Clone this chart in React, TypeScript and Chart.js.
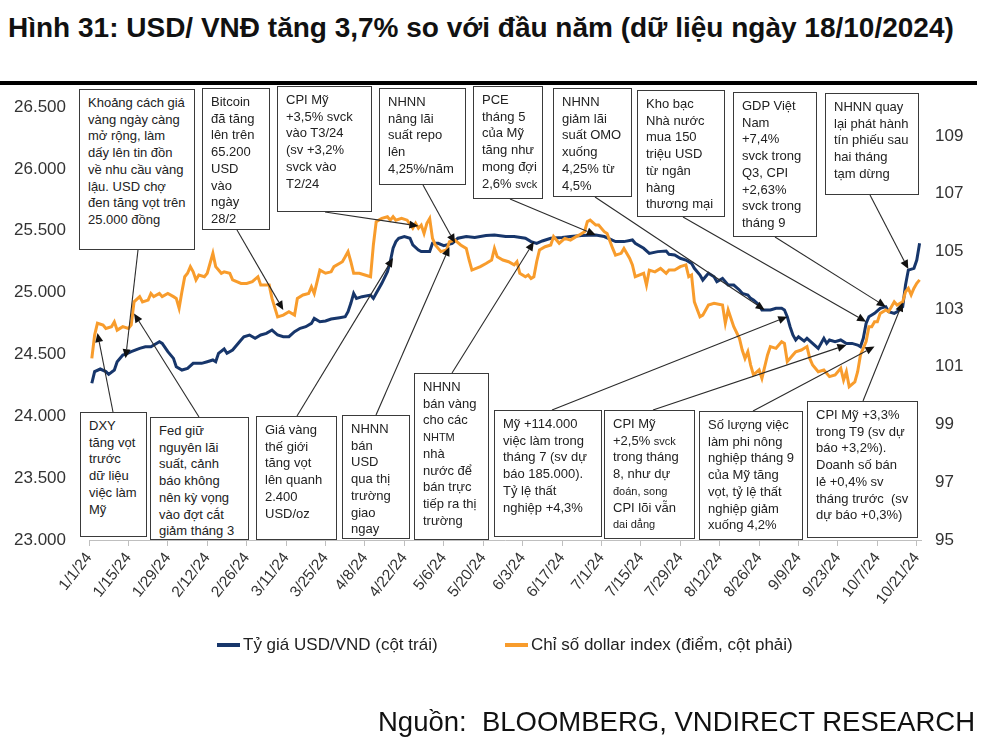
import React, { useEffect, useRef } from "react";
import { Chart, registerables } from "chart.js";
Chart.register(...registerables);

// ---- DATA ----
// x = days since 1/1/24
const vndDays = [1,2,4,6,7,9,10,12,13,15,18,20,22,25,26,28,30,31,33,35,37,40,42,44,45,46,48,49,51,54,55,57,59,61,63,65,67,69,71,73,75,77,79,80,82,84,86,89,91,92,93,94,95,97,100,101,102,104,106,107,108,109,110,112,114,115,117,118,121,122,124,126,129,131,134,137,141,144,148,151,155,157,159,161,164,168,171,175,180,183,187,190,193,194,197,199,202,205,206,208,210,212,214,215,217,218,220,222,223,225,227,229,231,232,234,235,236,238,239,242,244,246,247,248,249,250,251,252,254,255,257,259,261,262,263,265,267,269,271,273,274,275,276,277,279,281,283,284,286,287,289,290,291,293,294,295];
const vndValues = [24267,24361,24382,24361,24339,24374,24441,24495,24501,24522,24549,24562,24562,24603,24589,24522,24468,24401,24374,24387,24428,24428,24441,24455,24441,24509,24544,24509,24536,24617,24643,24657,24630,24657,24670,24697,24657,24643,24643,24684,24711,24724,24751,24791,24764,24770,24786,24797,24805,24845,24913,24994,24953,24967,24980,24953,24994,25075,25169,25250,25358,25412,25439,25453,25439,25385,25344,25331,25331,25398,25398,25379,25398,25439,25453,25445,25461,25466,25453,25453,25439,25412,25398,25417,25439,25445,25453,25461,25466,25453,25412,25412,25425,25398,25358,25317,25331,25336,25309,25304,25277,25263,25236,25196,25142,25101,25156,25128,25088,25115,25061,25061,25021,24994,24980,24953,24940,24900,24859,24859,24873,24873,24859,24805,24724,24657,24617,24643,24608,24630,24589,24549,24630,24589,24617,24603,24617,24589,24589,24576,24562,24630,24751,24805,24832,24873,24886,24845,24832,24845,24886,25061,25182,25196,25263,25398];

const dxyDays = [1,2,3,5,6,8,9,10,12,14,15,16,18,19,21,22,23,25,26,28,30,31,32,33,34,35,36,37,38,39,41,42,44,45,47,48,50,51,54,56,58,60,61,64,65,67,69,71,73,74,76,78,79,80,82,84,86,87,90,91,92,93,94,96,98,100,101,102,104,106,107,108,109,111,113,115,116,117,118,119,120,121,122,123,125,127,128,130,132,134,135,136,139,141,143,144,145,147,149,151,152,153,155,156,157,158,159,160,162,164,165,167,169,171,173,174,176,177,178,180,181,183,184,186,187,189,190,192,193,194,197,198,199,201,203,205,206,208,210,212,213,214,215,217,218,220,222,225,226,227,229,231,232,233,234,235,236,238,239,241,242,244,246,247,248,250,251,253,255,256,257,259,261,263,265,267,268,269,270,272,273,274,276,277,278,279,280,281,283,284,285,286,287,289,290,291,292,293,294,295];
const dxyValues = [101.29,102.1,102.51,102.45,102.33,102.39,102.56,102.27,102.39,102.33,102.45,103.25,103.43,103.25,103.31,103.54,103.43,103.54,103.43,103.54,103.43,103.37,103.03,103.6,104.12,104.24,104.47,104.29,104.01,104.18,104.12,104.24,104.93,104.47,104.24,104.29,104.24,104.01,103.89,103.89,103.95,104.12,103.83,103.83,103.37,102.73,102.79,102.91,102.79,103.37,103.49,103.54,103.77,103.54,104.35,104.24,104.29,104.47,104.64,104.81,104.99,104.64,104.24,104.24,104.18,104.12,105.22,106.03,106.14,106.2,106.08,106.2,106.08,106.14,106.08,105.8,105.97,105.8,105.91,105.62,105.97,106.14,105.45,105.22,104.99,105.05,105.33,105.39,105.22,105.1,104.7,104.35,104.47,104.58,104.7,105.1,104.81,104.7,104.64,104.53,104.64,104.24,104.12,104.18,104.06,104.12,104.64,105.05,105.16,105.22,105.51,105.28,105.45,105.39,105.51,105.56,105.68,106.03,106.08,105.91,105.91,105.68,105.62,105.1,104.87,104.93,105.1,104.76,104.53,104.12,104.24,103.83,104.35,104.29,104.41,104.24,104.35,104.35,104.47,104.53,104.12,104.18,103.25,102.73,102.79,103.14,103.2,103.14,102.51,102.97,102.39,101.99,101.58,101.29,101.52,101.06,100.72,100.89,100.6,101.41,101.7,101.64,101.87,101.81,101.18,101.41,101.52,101.58,101.7,101.29,101.06,100.83,100.89,100.66,100.72,100.95,100.54,100.83,100.31,100.48,100.83,101.41,101.87,102.39,102.39,102.56,102.56,102.85,102.97,102.91,103.08,103.25,103.14,103.25,103.6,103.72,103.49,103.72,103.89,104.01];

const leftTicks = [23000,23500,24000,24500,25000,25500,26000,26500];
const rightTicks = [95,97,99,101,103,105,107,109];
const xTickDays = [0,14,28,42,56,70,84,98,112,126,140,154,168,182,196,210,224,238,252,266,280,294];

const seriesNames = ["Tỷ giá USD/VND (cột trái)", "Chỉ số dollar index (điểm, cột phải)"];
const titleText = "Hình 31: USD/ VNĐ tăng 3,7% so với đầu năm (dữ liệu ngày 18/10/2024)";
const sourceText = "Nguồn:  BLOOMBERG, VNDIRECT RESEARCH";

// annotations: text in {} is drawn smaller
const noteTexts = [
  ["Khoảng cách giá","vàng ngày càng","mở rộng, làm","dấy lên tin đồn","về nhu cầu vàng","lậu. USD chợ","đen tăng vọt trên","25.000 đồng"],
  ["Bitcoin","đã tăng","lên trên","65.200","USD","vào","ngày","28/2"],
  ["CPI Mỹ","+3,5% svck","vào T3/24","(sv +3,2%","svck vào","T2/24"],
  ["NHNN","nâng lãi","suất repo","lên","4,25%/năm"],
  ["PCE","tháng 5","của Mỹ","tăng như","mong đợi","2,6% {svck}"],
  ["NHNN","giảm lãi","suất OMO","xuống","4,25% từ","4,5%"],
  ["Kho bạc","Nhà nước","mua 150","triệu USD","từ ngân","hàng","thương mại"],
  ["GDP Việt","Nam","+7,4%","svck trong","Q3, CPI","+2,63%","svck trong","tháng 9"],
  ["NHNN quay","lại phát hành","tín phiếu sau","hai tháng","tạm dừng"],
  ["DXY","tăng vọt","trước","dữ liệu","việc làm","Mỹ"],
  ["Fed giữ","nguyên lãi","suất, cảnh","báo không","nên kỳ vọng","vào đợt cắt","giảm tháng 3"],
  ["Giá vàng","thế giới","tăng vọt","lên quanh","2.400","USD/oz"],
  ["NHNN","bán","USD","qua thị","trường","giao","ngay"],
  ["NHNN","bán vàng","cho các","{NHTM}","nhà","nước để","bán trực","tiếp ra thị","trường"],
  ["Mỹ +114.000","việc làm trong","tháng 7 (sv dự","báo 185.000).","Tỷ lệ thất","nghiệp +4,3%"],
  ["CPI Mỹ","+2,5% {svck}","trong tháng","8, như dự","{đoán, song}","CPI lõi vẫn","{dai dẳng}"],
  ["Số lượng việc","làm phi nông","nghiệp tháng 9","của Mỹ tăng","vọt, tỷ lệ thất","nghiệp giảm","xuống 4,2%"],
  ["CPI Mỹ +3,3%","trong T9 (sv dự","báo +3,2%).","Doanh số bán","lẻ +0,4% sv","tháng trước  (sv","dự báo +0,3%)"],
];
// what each note points at: axis, day, value
const noteTargetAxis = ["y","y1","y1","y","y","y","y","y","y","y1","y1","y","y1","y","y","y","y1","y1"];
const noteTargetDay = [13,69,117,130,180,240,276,283,291,3,16,108,128,158,248,269,279,289];
const noteTargetValue = [24470,102.97,105.88,25400,25466,24859,24765,24886,25190,102.17,102.85,25280,105.15,25410,24805,24576,101.7,103.23];

// ---- LAYOUT (pixels) ----
const noteBoxes = [
  [79,89,116,161],[202,88,68,142],[277,86,95,126],[379,88,87,97],[473,86,70,113],[553,88,79,109],
  [637,90,88,127],[733,92,84,145],[825,93,94,102],
  [80,412,67,125],[150,417,99,123],[256,416,81,124],[342,415,68,124],[414,373,75,167],
  [494,410,108,127],[604,410,91,129],[699,411,104,129],[807,401,111,137],
];
const noteFrom = [
  [138,250],[237,230],[325,212],[423,185],[510,199],[595,197],[683,217],[775,237],[870,195],
  [113,412],[199,417],[297,416],[376,415],[452,373],[552,410],[653,410],[753,411],[863,401],
];

const FONT = "'Liberation Sans', Arial, Helvetica, sans-serif";
const BLUE = "#17366b";
const ORANGE = "#f89c2c";

function dayLabel(d: number) {
  const dt = new Date(2024, 0, 1 + d);
  return `${dt.getMonth() + 1}/${dt.getDate()}/24`;
}
function fmtThousands(v: number) {
  return String(v).replace(/\B(?=(\d{3})+(?!\d))/g, ".");
}

function renderLine(s: string, k: number) {
  const parts = s.split(/(\{[^}]*\})/).filter((p) => p.length);
  return (
    <div key={k} style={{ whiteSpace: "pre" }}>
      {parts.map((p, i) =>
        p.startsWith("{") ? (
          <span key={i} style={{ fontSize: "11px" }}>{p.slice(1, -1)}</span>
        ) : (
          <span key={i}>{p}</span>
        )
      )}
    </div>
  );
}

export default function App() {
  const canvasRef = useRef<HTMLCanvasElement | null>(null);

  useEffect(() => {
    if (!canvasRef.current) return;
    Chart.defaults.font.family = FONT;
    const arrowPlugin = {
      id: "arrows",
      afterDatasetsDraw(chart: any) {
        const ctx = chart.ctx;
        const xs = chart.scales.x;
        noteFrom.forEach((f, i) => {
          const ys = chart.scales[noteTargetAxis[i]];
          const tx = xs.getPixelForValue(noteTargetDay[i]);
          const ty = ys.getPixelForValue(noteTargetValue[i]);
          const [fx, fy] = f;
          const ang = Math.atan2(ty - fy, tx - fx);
          const hl = 9, hw = 4;
          const bx = tx - hl * Math.cos(ang), by = ty - hl * Math.sin(ang);
          ctx.save();
          ctx.strokeStyle = "#2b2b2b";
          ctx.lineWidth = 1.1;
          ctx.beginPath();
          ctx.moveTo(fx, fy);
          ctx.lineTo(bx, by);
          ctx.stroke();
          ctx.beginPath();
          ctx.moveTo(tx, ty);
          ctx.lineTo(bx + hw * Math.sin(ang), by - hw * Math.cos(ang));
          ctx.lineTo(bx - hw * Math.sin(ang), by + hw * Math.cos(ang));
          ctx.closePath();
          ctx.fillStyle = "#111";
          ctx.fill();
          ctx.restore();
        });
      },
    };

    const chart = new Chart(canvasRef.current, {
      type: "line",
      data: {
        datasets: [
          {
            label: seriesNames[0],
            data: vndDays.map((d, i) => ({ x: d, y: vndValues[i] })),
            borderColor: BLUE,
            backgroundColor: BLUE,
            borderWidth: 3,
            pointRadius: 0,
            tension: 0,
            yAxisID: "y",
            order: 2,
          },
          {
            label: seriesNames[1],
            data: dxyDays.map((d, i) => ({ x: d, y: dxyValues[i] })),
            borderColor: ORANGE,
            backgroundColor: ORANGE,
            borderWidth: 3,
            pointRadius: 0,
            tension: 0,
            yAxisID: "y1",
            order: 1,
          },
        ],
      },
      options: {
        animation: false,
        responsive: true,
        maintainAspectRatio: false,
        layout: { padding: { top: 107, left: 0, right: 0, bottom: 0 } },
        plugins: { legend: { display: false }, tooltip: { enabled: false } },
        scales: {
          x: {
            type: "linear",
            min: 0,
            max: 295.5,
            afterBuildTicks: (s: any) => {
              s.ticks = xTickDays.map((v) => ({ value: v }));
            },
            afterFit: (s: any) => {
              s.height = 206;
            },
            ticks: {
              autoSkip: false,
              minRotation: 52,
              maxRotation: 52,
              padding: 3,
              color: "#333",
              font: { size: 15.5 },
              callback: (v: any) => dayLabel(Number(v)),
            },
            grid: { drawOnChartArea: false, drawTicks: true, tickLength: 6, color: "#bfbfbf" },
            border: { display: true, color: "#bfbfbf", width: 1 },
          },
          y: {
            type: "linear",
            position: "left",
            min: 23000,
            max: 26500,
            afterBuildTicks: (s: any) => {
              s.ticks = leftTicks.map((v) => ({ value: v }));
            },
            afterFit: (s: any) => {
              s.width = 89;
            },
            ticks: { padding: 15, color: "#333", font: { size: 17 }, callback: (v: any) => fmtThousands(Number(v)) },
            grid: { display: false },
            border: { display: false },
          },
          y1: {
            type: "linear",
            position: "right",
            min: 95,
            max: 110,
            afterBuildTicks: (s: any) => {
              s.ticks = rightTicks.map((v) => ({ value: v }));
            },
            afterFit: (s: any) => {
              s.width = 70;
            },
            ticks: { padding: 6, color: "#333", font: { size: 17 } },
            grid: { display: false },
            border: { display: false },
          },
        },
      },
      plugins: [arrowPlugin],
    } as any);
    return () => chart.destroy();
  }, []);

  return (
    <div style={{ position: "absolute", left: 0, top: 0, width: 991, height: 746, background: "#fff", fontFamily: FONT, overflow: "hidden" }}>
      <div style={{ position: "absolute", left: 8, top: 12, fontSize: "28px", fontWeight: "bold", color: "#111", whiteSpace: "nowrap" }}>
        {titleText}
      </div>
      <div style={{ position: "absolute", left: 0, top: 81, width: 977, height: 4, background: "#000" }} />
      <div style={{ position: "absolute", left: 0, top: 0, width: 991, height: 746 }}>
        <canvas ref={canvasRef} />
      </div>
      {noteTexts.map((lines, i) => {
        const [x, y, w, h] = noteBoxes[i];
        return (
          <div
            key={i}
            style={{
              position: "absolute",
              left: x,
              top: y,
              width: w,
              height: h,
              boxSizing: "border-box",
              border: "1.5px solid #3a3a3a",
              background: "#fff",
              padding: "5px 0 0 8px",
              fontSize: "13px",
              lineHeight: "16.7px",
              color: "#222",
              overflow: "hidden",
            }}
          >
            {lines.map((l, k) => renderLine(l, k))}
          </div>
        );
      })}
      {/* legend */}
      <div style={{ position: "absolute", left: 217, top: 643, width: 23, height: 4, background: BLUE }} />
      <div style={{ position: "absolute", left: 243, top: 635, fontSize: "17px", color: "#222", whiteSpace: "nowrap" }}>{seriesNames[0]}</div>
      <div style={{ position: "absolute", left: 505, top: 643, width: 23, height: 4, background: ORANGE }} />
      <div style={{ position: "absolute", left: 531, top: 635, fontSize: "17px", color: "#222", whiteSpace: "nowrap" }}>{seriesNames[1]}</div>
      <div style={{ position: "absolute", right: 16, top: 706, fontSize: "27.5px", color: "#111", whiteSpace: "pre" }}>{sourceText}</div>
    </div>
  );
}
